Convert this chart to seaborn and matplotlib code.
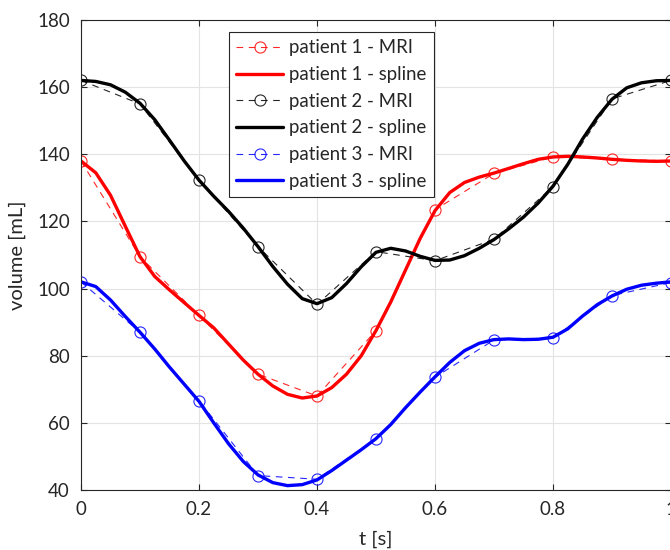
import numpy as np
import pandas as pd
import matplotlib
matplotlib.use("Agg")
import matplotlib.pyplot as plt
import seaborn as sns

# ---- data ----
t_mri = [0.0, 0.1, 0.2, 0.3, 0.4, 0.5, 0.6, 0.7, 0.8, 0.9, 1.0]
p1_mri = [138, 109.5, 92, 74.5, 68, 87.5, 123.5, 134.3, 139.2, 138.6, 138]
p2_mri = [162, 155, 132.3, 112.5, 95.3, 111, 108.3, 114.7, 130.3, 156.5, 162]
p3_mri = [102, 87, 66.6, 44.3, 43.2, 55.2, 73.6, 84.7, 85.3, 97.9, 101.8]

t_spl = [0.0, 0.025, 0.05, 0.075, 0.1, 0.125, 0.15, 0.175, 0.2, 0.225,
         0.25, 0.275, 0.3, 0.325, 0.35, 0.375, 0.4, 0.425, 0.45, 0.475,
         0.5, 0.525, 0.55, 0.575, 0.6, 0.625, 0.65, 0.675, 0.7, 0.725,
         0.75, 0.775, 0.8, 0.825, 0.85, 0.875, 0.9, 0.925, 0.95, 0.975, 1.0]
p1_spl = [138, 134.5, 127.8, 118.6, 109.5, 103.6, 99.6, 95.8, 92, 88.3,
          83.5, 78.7, 74.5, 71, 68.5, 67.4, 68, 70.5, 74.5, 80,
          87.5, 96, 105.5, 115, 123.2, 128.6, 131.6, 133.2, 134.4, 135.8,
          137.2, 138.5, 139.2, 139.4, 139.2, 138.9, 138.5, 138.2, 138, 137.9, 138]
p2_spl = [162, 161.7, 160.7, 158.5, 155.2, 150.3, 144.2, 138, 132.3, 127.5,
          123, 118, 112.5, 106.6, 101.3, 97, 95.5, 97.3, 101.5, 106.5,
          110.8, 112, 111.2, 109.6, 108.4, 108.5, 109.8, 112, 114.6, 117.8,
          121.3, 125.5, 130.5, 137, 144.5, 151, 156.4, 159.8, 161.3, 161.9, 162]
p3_spl = [102, 100.6, 96.6, 91.7, 87, 82, 76.6, 71.5, 66.4, 60,
          53.8, 48.5, 44.5, 42.2, 41.3, 41.6, 43, 45.8, 48.9, 52,
          55.3, 59.5, 64.5, 69.2, 73.7, 78, 81.5, 83.7, 84.8, 85,
          84.8, 84.9, 85.5, 88, 91.8, 95.2, 97.8, 99.8, 101, 101.6, 102]

labels = ["patient 1", "patient 2", "patient 3"]
colors = ["#ff0000", "#000000", "#0000ff"]
mri_series = [p1_mri, p2_mri, p3_mri]
spl_series = [p1_spl, p2_spl, p3_spl]

sns.set_style("white")
plt.rcParams["font.family"] = ["Lato", "DejaVu Sans"]

fig = plt.figure(figsize=(6.7, 5.5), dpi=100)
ax = fig.add_axes([81 / 670, 60 / 550, 590 / 670, 470 / 550])

for lab, col, mri, spl in zip(labels, colors, mri_series, spl_series):
    df_m = pd.DataFrame({"t": t_mri, "v": mri})
    df_s = pd.DataFrame({"t": t_spl, "v": spl})
    sns.lineplot(data=df_m, x="t", y="v", ax=ax, color=col, lw=0.8,
                 linestyle=(0, (6, 5)), marker="o", markersize=8,
                 markerfacecolor="none", markeredgecolor=col,
                 markeredgewidth=0.8, alpha=0.85, label=f"{lab} - MRI",
                 estimator=None, sort=False)
    sns.lineplot(data=df_s, x="t", y="v", ax=ax, color=col, lw=2.4,
                 label=f"{lab} - spline", estimator=None, sort=False)

ax.set_xlim(0, 1)
ax.set_ylim(40, 180)
ax.set_xticks([0, 0.2, 0.4, 0.6, 0.8, 1.0])
ax.set_xticklabels(["0", "0.2", "0.4", "0.6", "0.8", "1"])
ax.set_yticks([40, 60, 80, 100, 120, 140, 160, 180])

ax.grid(True, color="#e3e3e3", lw=0.8)
ax.set_axisbelow(True)
for s in ax.spines.values():
    s.set_color("#262626")
    s.set_linewidth(0.8)
ax.tick_params(direction="in", length=4, width=0.8, color="#262626",
               labelsize=13.5, labelcolor="#262626", top=True, right=True,
               bottom=True, left=True, pad=8)

ax.set_xlabel("t [s]", fontsize=14.5, color="#262626", labelpad=9)
ax.set_ylabel("volume [mL]", fontsize=14.5, color="#262626", labelpad=8)

leg = ax.legend(loc="upper left", bbox_to_anchor=((229 - 81) / 590, (490 - 32) / 470),
                fontsize=13.4, frameon=True, fancybox=False, framealpha=1,
                edgecolor="#262626", handlelength=2.5, handletextpad=0.35,
                labelspacing=0.52, borderpad=0.4, borderaxespad=0)
leg.get_frame().set_linewidth(0.8)
for txt in leg.get_texts():
    txt.set_color("#262626")

fig.savefig("out.png", dpi=100)
